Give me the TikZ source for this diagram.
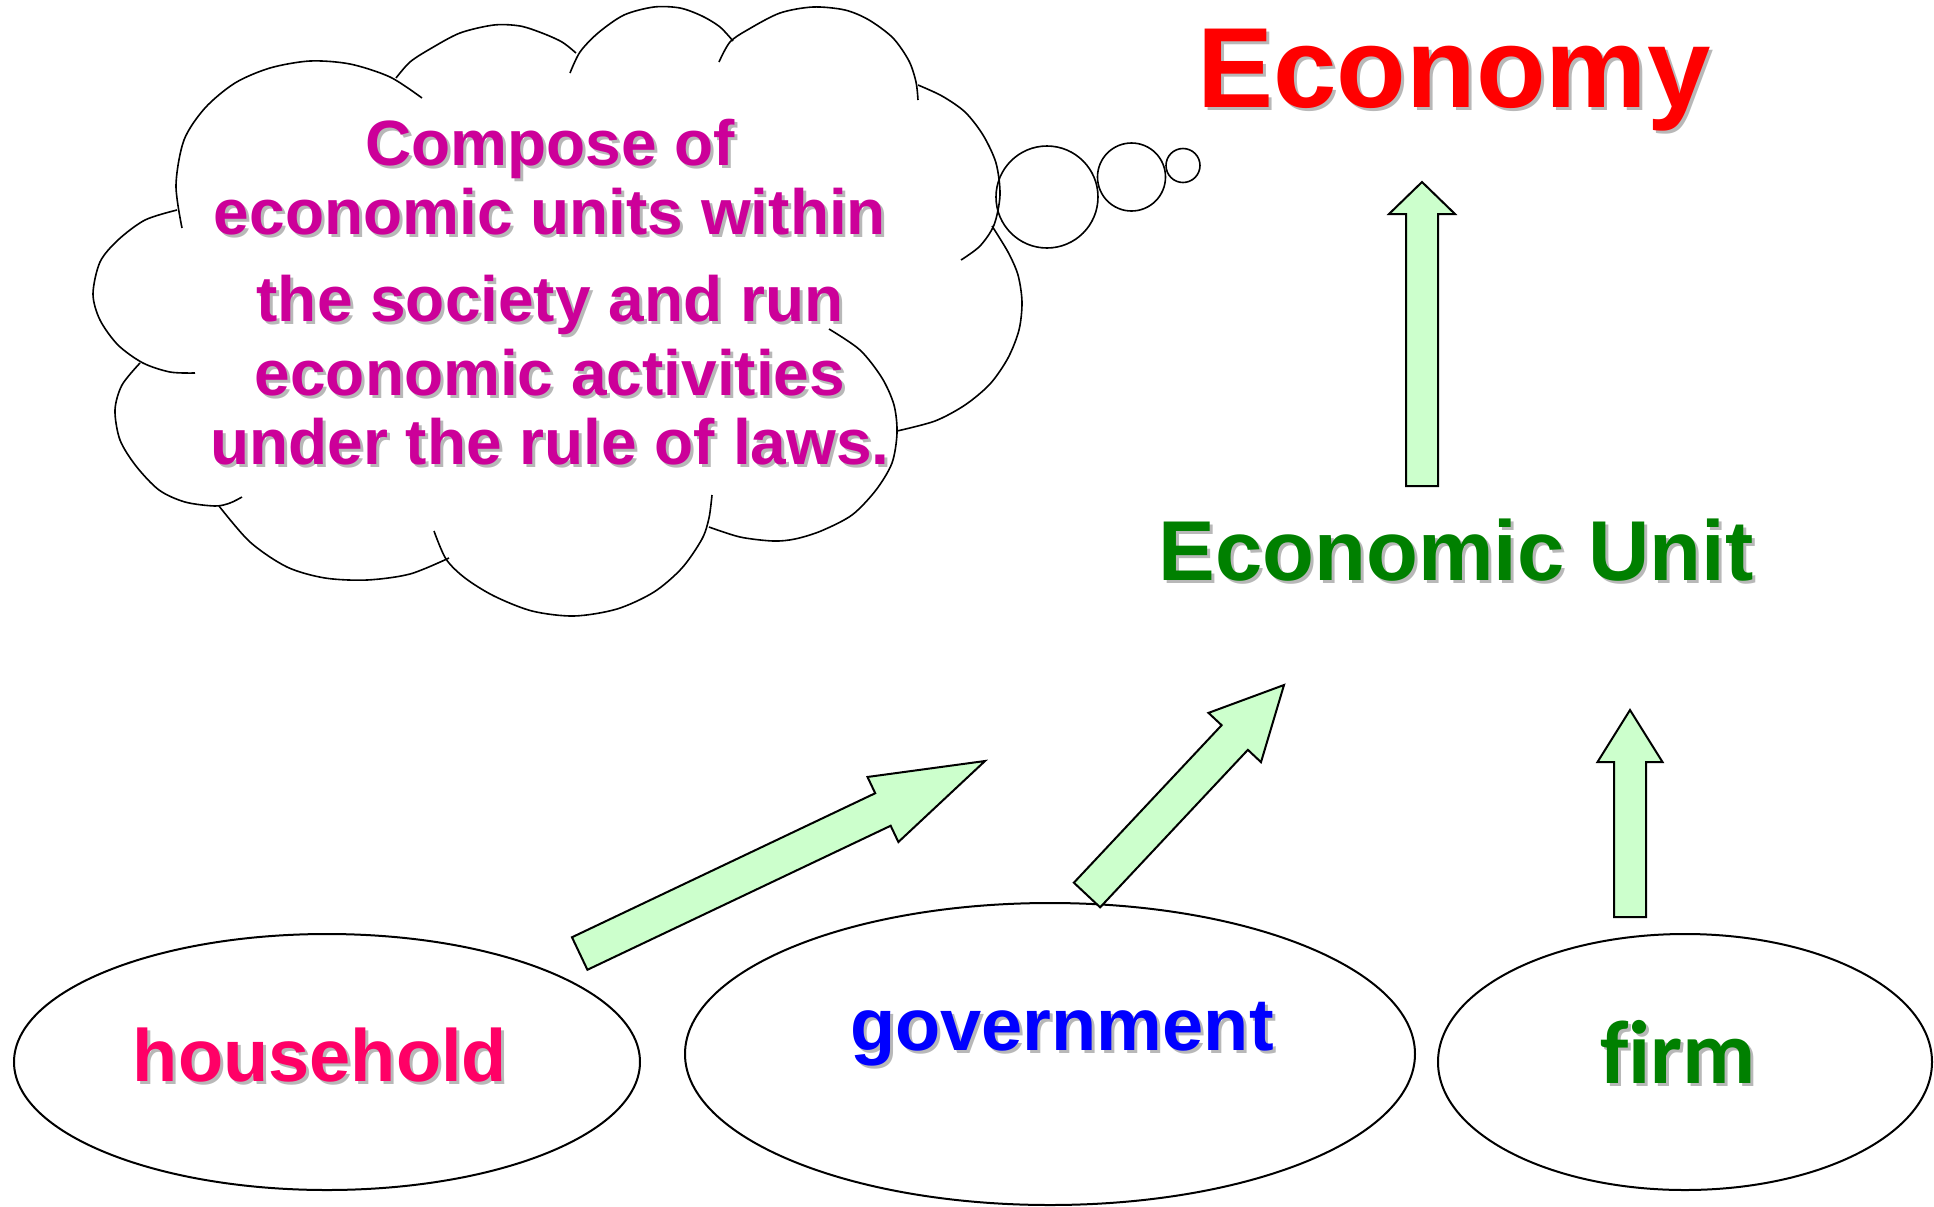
\documentclass[tikz,border=0pt]{standalone}
\usepackage{fontspec}
\setmainfont{Liberation Sans}
\newfontfamily\carlito[Ligatures=NoCommon]{Carlito}
\usetikzlibrary{calc,shapes.geometric}

% texte avec ombre grise
\newcommand{\ombre}[4]{%
  \node[#3, text=black!28] at ($(#2)+(3,3)$) {#4};
  \node[#3] (#1) at (#2) {#4};
}
% grosse fleche : queue, pointe, demi-largeur, demi-tete, longueur tete
\newcommand{\fleche}[5]{%
  \coordinate (fb) at ($(#2)!#5!(#1)$);
  \draw[bloc] ($(#1)!#3!90:(#2)$) -- ($(fb)!#3!90:(#2)$) -- ($(fb)!#4!90:(#2)$) -- (#2)
    -- ($(fb)!#4!-90:(#2)$) -- ($(fb)!#3!-90:(#2)$) -- ($(#1)!#3!-90:(#2)$) -- cycle;
}

\begin{document}
\begin{tikzpicture}[x=0.5pt, y=-0.5pt,
    ovale/.style={ellipse, draw, line width=1pt, inner sep=0pt},
    bloc/.style={draw, line width=1pt, fill=colFleche, line join=miter},
    trait/.style={line width=0.8pt},
    titre/.style={anchor=base, inner sep=0pt, font=\bfseries}]
    % Couleurs
    \definecolor{colEconomy}{RGB}{255,0,0}
    \definecolor{colUnit}{RGB}{0,128,0}
    \definecolor{colNuage}{RGB}{204,0,153}
    \definecolor{colHousehold}{RGB}{255,0,102}
    \definecolor{colGov}{RGB}{0,0,255}
    \definecolor{colFleche}{RGB}{204,255,204}

    \useasboundingbox (0,0) rectangle (1934,1206);

    % Nuage (lobes)
    \draw[trait] plot[smooth] coordinates {(182,228) (176,185) (184,140) (205,108) (235,83) (270,68) (310,61) (350,64) (390,77) (422,98)};
    \draw[trait] plot[smooth] coordinates {(396,78) (410,62) (430,49) (460,33) (494,25) (520,26) (542,33) (562,42) (576,53)};
    \draw[trait] plot[smooth] coordinates {(570,73) (580,52) (598,33) (624,15) (654,7) (680,8) (702,16) (720,27) (733,41)};
    \draw[trait] plot[smooth] coordinates {(719,62) (730,42) (749,29) (780,13) (813,7) (845,10) (869,20) (893,38) (909,61) (916,82) (918,100)};
    \draw[trait] plot[smooth] coordinates {(918,85) (942,96) (965,112) (983,135) (996,163) (1000,195) (994,225) (980,246) (961,260)};
    \draw[trait] plot[smooth] coordinates {(992,226) (1008,252) (1018,275) (1022,302) (1019,330) (1008,358) (990,384) (965,405) (935,421) (897,431)};
    \draw[trait] plot[smooth] coordinates {(829,329) (860,350) (882,378) (894,405) (897,433) (892,463) (876,490) (852,515) (821,531) (795,539) (773,541) (740,537) (709,527)};
    \draw[trait] plot[smooth] coordinates {(712,495) (709,518) (702,539) (682,568) (654,592) (617,609) (574,616) (532,611) (494,596) (465,578) (446,559) (434,531)};
    \draw[trait] plot[smooth] coordinates {(449,558) (410,574) (367,580) (325,578) (287,567) (250,542) (219,506)};
    \draw[trait] plot[smooth] coordinates {(242,497) (230,503) (215,506) (185,502) (159,490) (136,466) (120,440) (115,410) (122,385) (140,363)};
    \draw[trait] plot[smooth] coordinates {(195,373) (170,372) (143,363) (118,345) (100,320) (93,294) (100,262) (118,240) (145,220) (177,210)};

    % Bulles
    \draw[trait] (1047,197) circle[radius=25.5pt];
    \draw[trait] (1131.5,177) circle[radius=17pt];
    \draw[trait] (1183,165.5) circle[radius=8.5pt];

    % Textes
    \ombre{economy}{1454,107}{titre, text=colEconomy, font=\bfseries\fontsize{57}{60}\selectfont}{Economy}
    \ombre{unit}{1456,580}{titre, text=colUnit, font=\bfseries\fontsize{42.5}{45}\selectfont}{Economic Unit}
    \ombre{nuage}{550,464}{titre, align=center, text=colNuage, font=\bfseries\fontsize{32}{34.5}\selectfont}%
      {Compose of\\economic units within\\[9pt]the society and run\\[2.5pt]economic activities\\under the rule of laws.}

    % Ellipses
    \node[ovale, minimum width=313pt, minimum height=128pt] (ellHousehold) at (327,1062) {};
    \node[ovale, minimum width=365pt, minimum height=151pt] (ellGov) at (1050,1054) {};
    \node[ovale, minimum width=247pt, minimum height=128pt] (ellFirm) at (1685,1062) {};
    \ombre{household}{320,1081}{titre, text=colHousehold, font=\bfseries\fontsize{37}{40}\selectfont}{household}
    \ombre{government}{1062,1050}{titre, text=colGov, font=\bfseries\fontsize{37}{40}\selectfont}{government}
    \ombre{firm}{1678,1083}{titre, text=colUnit, font=\carlito\bfseries\fontsize{45}{48}\selectfont}{f\kern0pt irm}

    % Fleches
    \coordinate (hhQueue) at (579.7,953.5);  \coordinate (hhPointe) at (985,761);
    \coordinate (govQueue) at (1087,895);    \coordinate (govPointe) at (1284,685);
    \coordinate (firmQueue) at (1630,917);   \coordinate (firmPointe) at (1630,710);
    \coordinate (unitQueue) at (1422,486);   \coordinate (unitPointe) at (1422,182);
    \fleche{hhQueue}{hhPointe}{9pt}{18pt}{56.5pt}
    \fleche{govQueue}{govPointe}{9pt}{18pt}{36pt}
    \fleche{firmQueue}{firmPointe}{8pt}{16.25pt}{26pt}
    \fleche{unitQueue}{unitPointe}{8pt}{16.5pt}{16pt}
\end{tikzpicture}
\end{document}
